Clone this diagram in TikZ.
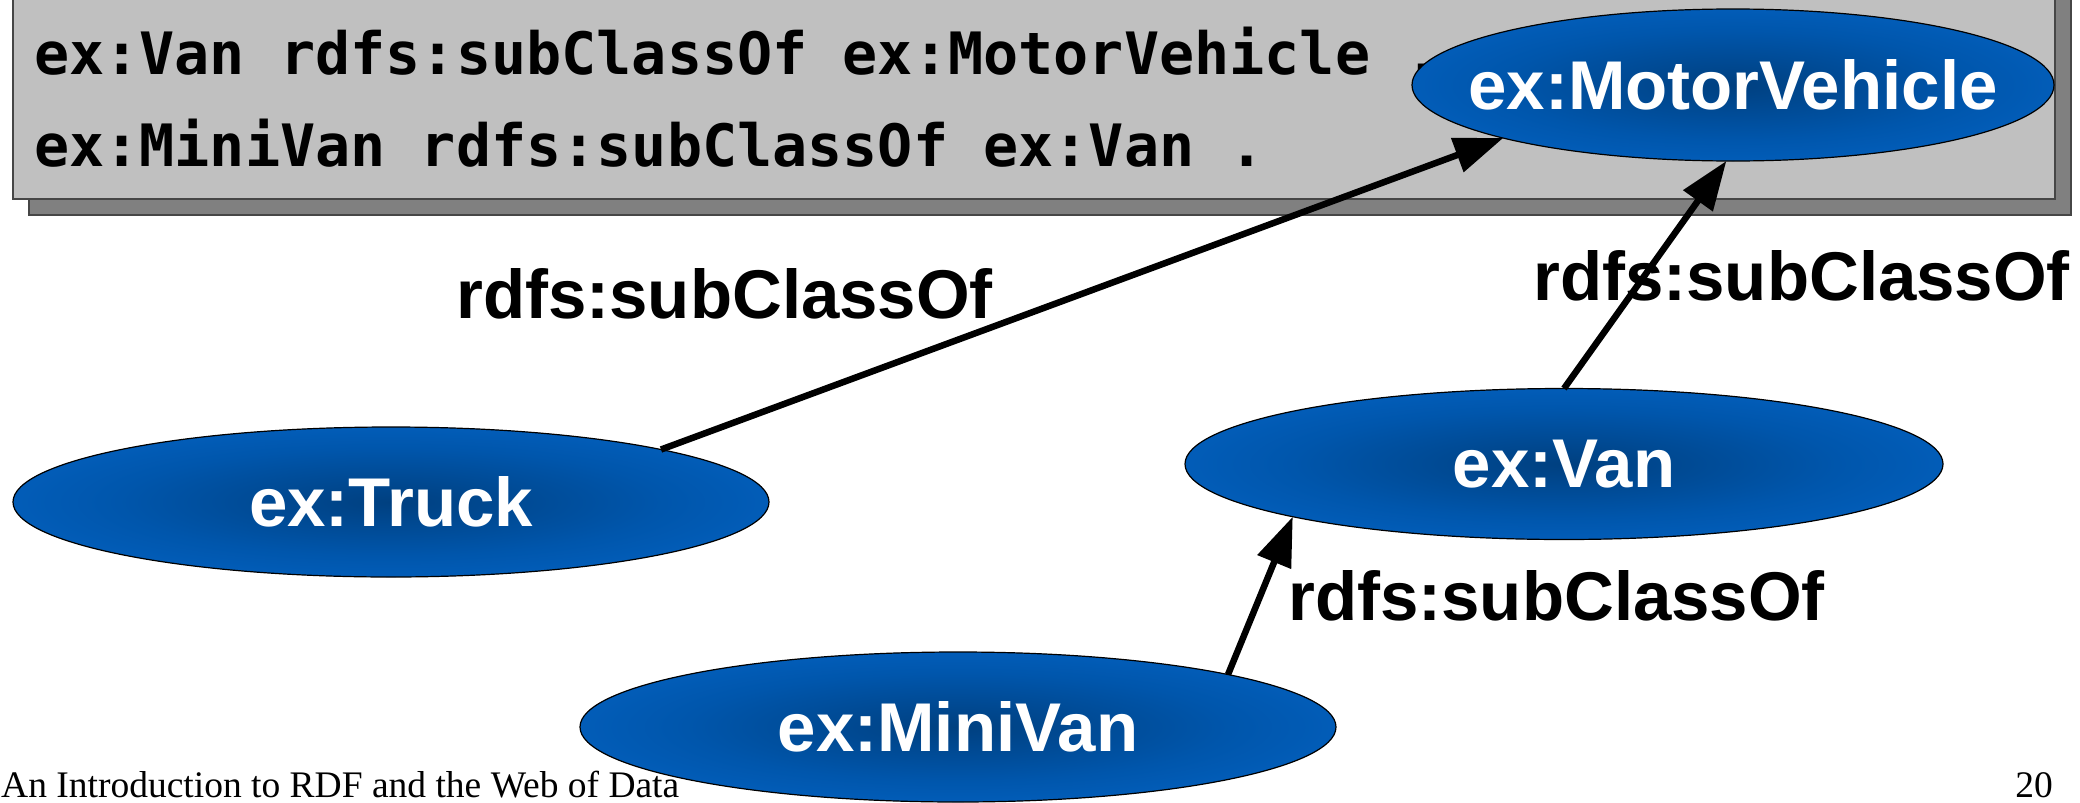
\documentclass[tikz,border=0pt]{standalone}
\usepackage{fontspec}
\setmainfont{Liberation Sans}
\newfontfamily\codefont{DejaVu Sans Mono}
\newfontfamily\footfont{Liberation Serif}
\usetikzlibrary{arrows.meta,shapes.geometric}

\definecolor{boxgray}{RGB}{192,192,192}
\definecolor{shadowgray}{RGB}{128,128,128}
\definecolor{edgegray}{RGB}{70,70,70}
\definecolor{elldark}{RGB}{0,64,128}
\definecolor{ellmid}{RGB}{0,86,172}
\definecolor{elllight}{RGB}{6,106,208}

\pgfdeclareradialshading{ellshade}{\pgfpoint{0bp}{0bp}}{color(0bp)=(elldark); color(18bp)=(ellmid); color(40bp)=(elllight); color(75bp)=(elllight)}

\begin{document}
\begin{tikzpicture}[x=1pt,y=-1pt,
  code/.style={font=\codefont\bfseries\fontsize{58.4}{60}\selectfont, inner sep=0pt, anchor=base west},
  cls/.style={ellipse, draw=black, line width=1.2pt, shading=ellshade, inner sep=0pt, outer sep=0pt,
    text=white, font=\fontsize{69}{80}\selectfont\bfseries},
  lbl/.style={font=\fontsize{69}{80}\selectfont\bfseries, inner sep=0pt, anchor=base west},
  arr/.style={-{Triangle[length=49pt,width=35pt]}, line width=6.5pt},
  foot/.style={font=\footfont\fontsize{37.5}{40}\selectfont, inner sep=0pt}
]
\useasboundingbox (0,0) rectangle (2080,803);
\clip (0,0) rectangle (2080,803);

% code box with shadow
\filldraw[fill=shadowgray, draw=edgegray, line width=1.5pt] (29,-10) rectangle (2071,215);
\filldraw[fill=boxgray, draw=edgegray, line width=1.5pt] (13,-10) rectangle (2055,199);
\node[code] (c1) at (34,74) {ex:Van rdfs:subClassOf ex:MotorVehicle .};
\node[code] (c2) at (34,166) {ex:MiniVan rdfs:subClassOf ex:Van .};

% footer
\node[foot, anchor=base west] (ft) at (1,797) {An Introduction to RDF and the Web of Data};
\node[foot, anchor=base east] (pg) at (2053,797) {20};

% classes
\node[cls, minimum width=642pt, minimum height=152pt] (mv) at (1733,85) {\makebox[0pt]{ex:MotorVehicle}};
\node[cls, minimum width=756pt, minimum height=150pt] (truck) at (391,502) {\makebox[0pt]{ex:Truck}};
\node[cls, minimum width=758pt, minimum height=151pt] (van) at (1564,464) {\makebox[0pt]{ex:Van}};
\node[cls, minimum width=756pt, minimum height=150pt] (minivan) at (958,727) {\makebox[0pt]{ex:MiniVan}};

% connectors
\draw[arr] (truck.11.6) -- (mv.193.6);
\draw[arr] (van.north) -- (mv.265);
\draw[arr] (minivan.11) -- (van.191.2);

% labels
\node[lbl] (l1) at (456,318) {rdfs:subClassOf};
\node[lbl] (l2) at (1533,300) {rdfs:subClassOf};
\node[lbl] (l3) at (1288,620) {rdfs:subClassOf};
\end{tikzpicture}
\end{document}
